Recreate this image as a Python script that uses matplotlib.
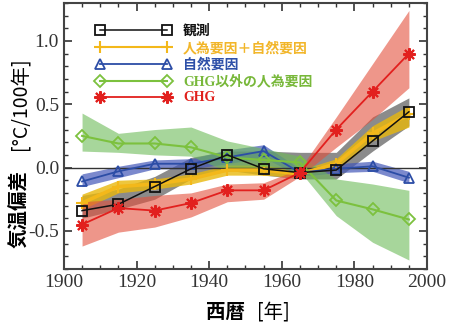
import matplotlib
matplotlib.use('Agg')
import matplotlib.pyplot as plt
from matplotlib.ticker import MultipleLocator
from matplotlib.font_manager import FontProperties

plt.rcParams['font.family'] = ['Noto Sans CJK JP', 'DejaVu Sans']
plt.rcParams['axes.unicode_minus'] = False

# decade centres
years = [1905, 1915, 1925, 1935, 1945, 1955, 1965, 1975, 1985, 1995]

# 観測 (observed) and its grey band
obs = [-0.34, -0.29, -0.15, -0.01, 0.10, -0.01, -0.04, -0.02, 0.21, 0.44]
obs_lo = [-0.40, -0.33, -0.25, -0.09, -0.02, -0.06, -0.09, -0.09, 0.13, 0.33]
obs_hi = [-0.22, -0.17, -0.07, 0.08, 0.13, 0.13, 0.12, 0.12, 0.40, 0.55]

# 人為要因＋自然要因
both = [-0.28, -0.15, -0.13, -0.09, -0.02, -0.02, -0.05, 0.03, 0.27, 0.42]
both_lo = [-0.33, -0.20, -0.17, -0.13, -0.06, -0.06, -0.08, -0.02, 0.21, 0.32]
both_hi = [-0.21, -0.10, -0.09, -0.05, 0.02, 0.02, -0.02, 0.07, 0.33, 0.49]

# 自然要因
natural = [-0.11, -0.03, 0.03, 0.03, 0.08, 0.13, -0.04, -0.01, 0.01, -0.08]
natural_lo = [-0.15, -0.08, -0.01, -0.01, 0.03, 0.08, -0.07, -0.04, -0.03, -0.12]
natural_hi = [-0.05, 0.01, 0.06, 0.07, 0.14, 0.18, -0.01, 0.03, 0.05, -0.03]

# GHG以外の人為要因
other = [0.25, 0.19, 0.19, 0.16, 0.08, 0.06, 0.04, -0.26, -0.33, -0.41]
other_lo = [0.13, 0.12, 0.10, 0.09, -0.03, 0.01, -0.03, -0.38, -0.59, -0.73]
other_hi = [0.43, 0.27, 0.30, 0.32, 0.21, 0.15, 0.09, -0.09, -0.13, -0.18]

# GHG
ghg = [-0.45, -0.32, -0.34, -0.28, -0.18, -0.18, -0.04, 0.30, 0.60, 0.90]
ghg_lo = [-0.62, -0.51, -0.47, -0.39, -0.27, -0.25, -0.07, 0.16, 0.38, 0.63]
ghg_hi = [-0.27, -0.25, -0.22, -0.20, -0.13, -0.12, -0.01, 0.40, 0.82, 1.24]

labels = ['観測', '人為要因＋自然要因', '自然要因', 'GHG以外の人為要因', 'GHG']
text_colors = ['#111111', '#F2B62A', '#2E50A8', '#78B83A', '#E0201C']

fig, ax = plt.subplots(figsize=(4.5, 3.22), dpi=100)
fig.subplots_adjust(left=0.142, right=0.949, bottom=0.165, top=0.991)

# bands
ax.fill_between(years, obs_lo, obs_hi, color='#6E6E6E', alpha=0.8, lw=0, zorder=1)
ax.fill_between(years, both_lo, both_hi, color='#E9B80C', alpha=0.8, lw=0, zorder=1.1)
ax.fill_between(years, natural_lo, natural_hi, color='#4357B8', alpha=0.7, lw=0, zorder=1.2)
ax.fill_between(years, other_lo, other_hi, color='#6DBB58', alpha=0.6, lw=0, zorder=1.3)
ax.fill_between(years, ghg_lo, ghg_hi, color='#E4503C', alpha=0.6, lw=0, zorder=1.4)

ax.axhline(0, color='#333333', lw=1.0, zorder=2)

# lines
l1, = ax.plot(years, obs, color='#111111', lw=1.1, marker='s', ms=7,
              mfc='none', mec='#111111', mew=1.3, zorder=4)
l2, = ax.plot(years, both, color='#F3B81A', lw=2.6, marker='+', ms=9,
              mew=1.5, zorder=3)
l3, = ax.plot(years, natural, color='#2C4DA6', lw=1.3, marker='^', ms=7.5,
              mfc='none', mec='#2C4DA6', mew=1.3, zorder=3)
l4, = ax.plot(years, other, color='#7CC13E', lw=1.5, marker='D', ms=6,
              mfc='none', mec='#7CC13E', mew=1.3, zorder=3)
l5, = ax.plot(years, ghg, color='#E2201E', lw=1.3, marker=(8, 2, 0), ms=9,
              mew=1.5, zorder=5)

ax.set_xlim(1900, 2000)
ax.set_ylim(-0.8, 1.3)
ax.xaxis.set_major_locator(MultipleLocator(20))
ax.xaxis.set_minor_locator(MultipleLocator(5))
ax.yaxis.set_major_locator(MultipleLocator(0.5))
ax.yaxis.set_minor_locator(MultipleLocator(0.1))
ax.yaxis.set_major_formatter(matplotlib.ticker.FormatStrFormatter('%.1f'))
ax.tick_params(which='both', direction='in', top=True, right=True,
               color='#333333', labelsize=14, labelfontfamily='Liberation Serif',
               labelcolor='#333333')
ax.tick_params(which='major', length=6, width=1.2)
ax.tick_params(which='minor', length=3, width=1.0)
for s in ax.spines.values():
    s.set_color('#444444')
    s.set_linewidth(1.5)

leg_font = FontProperties(family=['Liberation Serif', 'Noto Sans CJK JP'],
                          weight='bold', size=10)
leg = ax.legend([l1, l2, l3, l4, l5], labels, loc='upper left',
                bbox_to_anchor=(0.089, 0.918), frameon=False, numpoints=2,
                handlelength=5.4, handletextpad=0.85, labelspacing=0.22,
                borderpad=0, borderaxespad=0, prop=leg_font)
for t, c in zip(leg.get_texts(), text_colors):
    t.set_color(c)
# thinner yellow line in the legend key, as in the original
leg.legend_handles[1].set_linewidth(1.5)

# axis labels (bold part + regular part)
fig.text(0.544, 0.031, '西暦', fontsize=14, fontweight='bold', ha='right', va='center')
fig.text(0.571, 0.031, '[年]', fontsize=14, ha='left', va='center')
fig.text(0.044, 0.351, '気温偏差', fontsize=14, fontweight='bold',
         rotation=90, ha='center', va='center')
fig.text(0.044, 0.677, '[°C/100年]', fontsize=14, rotation=90,
         ha='center', va='center')

plt.savefig('out.png', dpi=100)
